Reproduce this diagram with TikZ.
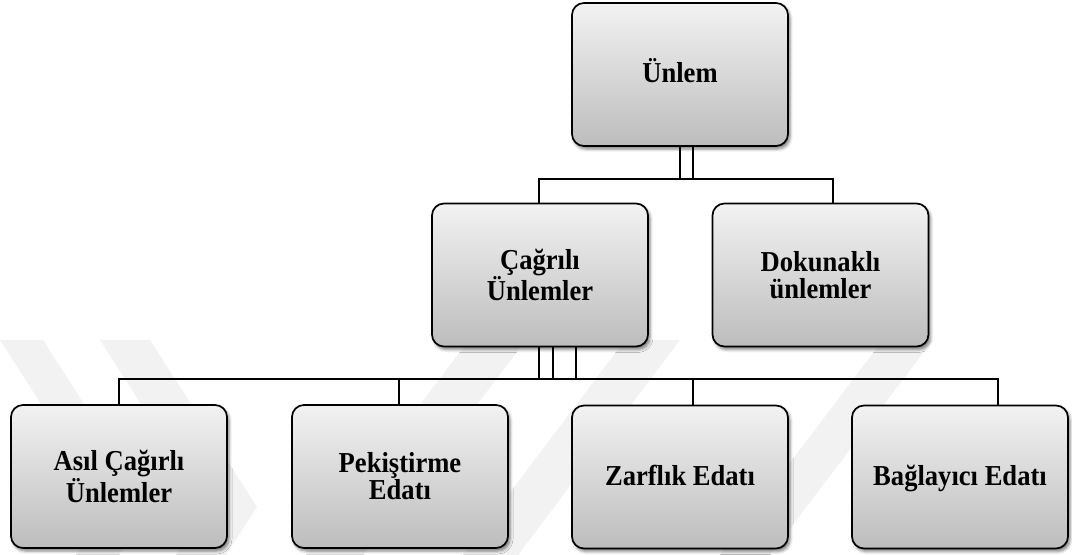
\documentclass[tikz,border=0pt]{standalone}
\usepackage{fontspec}
\setmainfont{Liberation Serif}[FakeStretch=0.92]
\usetikzlibrary{calc,shadows.blur}
\begin{document}
\begin{tikzpicture}[x=1bp,y=-1bp,
  box/.style={draw=black, line width=1.7bp, rounded corners=12bp,
    minimum width=216bp, minimum height=143bp, inner sep=0pt,
    top color=black!5, bottom color=black!26, align=center,
    font=\fontsize{29}{27}\selectfont\bfseries,
    blur shadow={shadow xshift=2bp, shadow yshift=-3bp, shadow blur radius=3bp, shadow opacity=50}},
  oneline/.style={text height=21bp, text depth=5bp},
  conn/.style={line width=1.5bp, draw=black},
  wm/.style={fill=black!5, draw=none}]
\useasboundingbox (0,0) rectangle (1072,555);
% faint watermark
\fill[wm] (0,340) -- (43,340) -- (150,507) -- (119,555) -- (76,555) -- (107,507) -- cycle;
\fill[wm] (100,340) -- (150,340) -- (257,507) -- (226,555) -- (176,555) -- (207,507) -- cycle;
\fill[wm] (306,555) -- (363,555) -- (526,340) -- (469,340) -- cycle;
\fill[wm] (463,555) -- (518,555) -- (680,340) -- (625,340) -- cycle;
\fill[wm] (720,555) -- (770,555) -- (933,340) -- (883,340) -- cycle;
% levels
\coordinate (b1) at (0,179);
\coordinate (b2) at (0,379);
% nodes
\node[box, oneline] (unlem) at (680,74.5) {Ünlem};
\node[box] (cag) at (540,275) {Çağrılı\\Ünlemler};
\node[box] (dok) at (820.5,275) {Dokunaklı\\ünlemler};
\node[box] (asil) at (119,476.5) {Asıl Çağırlı\\Ünlemler};
\node[box] (pek) at (400,476.5) {Pekiştirme\\Edatı};
\node[box, oneline] (zarf) at (680,477) {Zarflık Edatı};
\node[box, oneline] (bag) at (960,477) {Bağlayıcı Edatı};
% connectors level 1
\coordinate (u1) at (unlem.south);
\coordinate (u2) at ($(unlem.south)+(13,0)$);
\draw[conn] (u1) -- (u1 |- b1);
\draw[conn] (u2) -- (u2 |- b1);
\coordinate (cagin) at ($(cag.north)+(-1,0)$);
\coordinate (dokin) at ($(dok.north)+(12.5,0)$);
\draw[conn] (cagin) -- (cagin |- b1) -- (dokin |- b1) -- (dokin);
% connectors level 2
\coordinate (c1) at ($(cag.south)+(-1,0)$);
\coordinate (c2) at ($(cag.south)+(13,0)$);
\coordinate (c3) at ($(cag.south)+(36,0)$);
\draw[conn] (c1) -- (c1 |- b2);
\draw[conn] (c2) -- (c2 |- b2);
\draw[conn] (c3) -- (c3 |- b2);
\coordinate (asin) at (asil.north);
\coordinate (pekin) at ($(pek.north)+(-1,0)$);
\coordinate (zarfin) at ($(zarf.north)+(13,0)$);
\coordinate (bagin) at ($(bag.north)+(38,0)$);
\draw[conn] (asin) -- (asin |- b2) -- (bagin |- b2) -- (bagin);
\draw[conn] (pekin) -- (pekin |- b2);
\draw[conn] (zarfin) -- (zarfin |- b2);
\end{tikzpicture}
\end{document}
